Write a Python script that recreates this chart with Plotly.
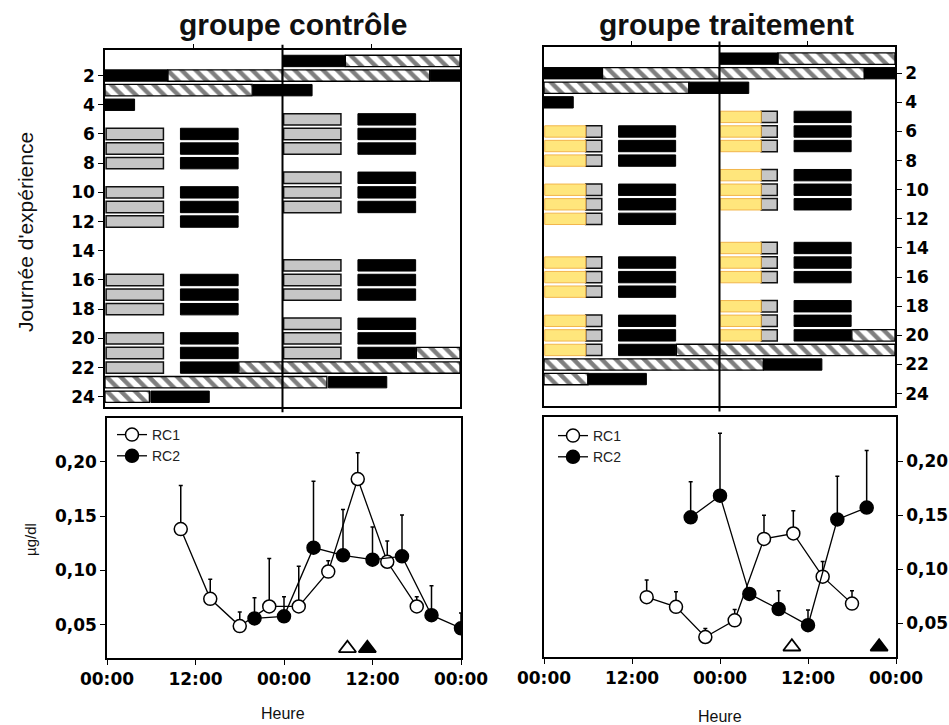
import plotly.graph_objects as go

W, H = 949, 725

# ---------------- actogram data: (day of experiment, start hour, end hour) ----------------
# control group
ctrl_dark_day = [2, 3, 4, 6, 7, 8, 10, 11, 12, 16, 17, 18, 20, 21, 22, 24]
ctrl_dark_start = [0, 20, 0, 10.2, 10.2, 10.2, 10.2, 10.2, 10.2, 10.2, 10.2, 10.2, 10.2, 10.2, 10.2, 6.2]
ctrl_dark_end = [8.5, 24, 4, 18, 18, 18, 18, 18, 18, 18, 18, 18, 18, 18, 18, 14.1]
ctrl_gray_day = [6, 7, 8, 10, 11, 12, 16, 17, 18, 20, 21, 22]
ctrl_gray_start = [0.15, 0.15, 0.15, 0.15, 0.15, 0.15, 0.15, 0.15, 0.15, 0.15, 0.15, 0.15]
ctrl_gray_end = [7.9, 7.9, 7.9, 7.9, 7.9, 7.9, 7.9, 7.9, 7.9, 7.9, 7.9, 7.9]
ctrl_hatch_day = [2, 3, 22, 23, 24]
ctrl_hatch_start = [8.5, 0, 18.1, 0, 0]
ctrl_hatch_end = [24, 19.9, 24, 24, 6]

# treatment group
trt_dark_day = [2, 3, 4, 6, 7, 8, 10, 11, 12, 15, 16, 17, 19, 20, 21, 23]
trt_dark_start = [0, 19.8, 0, 10.2, 10.2, 10.2, 10.2, 10.2, 10.2, 10.2, 10.2, 10.2, 10.2, 10.2, 10.2, 6]
trt_dark_end = [8, 24, 4, 18, 18, 18, 18, 18, 18, 18, 18, 18, 18, 18, 18, 14]
trt_gray_day = [6, 7, 8, 10, 11, 12, 15, 16, 17, 19, 20, 21]
trt_gray_start = [5.7, 5.7, 5.7, 5.7, 5.7, 5.7, 5.7, 5.7, 5.7, 5.7, 5.7, 5.7]
trt_gray_end = [7.9, 7.9, 7.9, 7.9, 7.9, 7.9, 7.9, 7.9, 7.9, 7.9, 7.9, 7.9]
trt_yellow_day = [6, 7, 8, 10, 11, 12, 15, 16, 17, 19, 20, 21]
trt_yellow_start = [0.1, 0.1, 0.1, 0.1, 0.1, 0.1, 0.1, 0.1, 0.1, 0.1, 0.1, 0.1]
trt_yellow_end = [5.7, 5.7, 5.7, 5.7, 5.7, 5.7, 5.7, 5.7, 5.7, 5.7, 5.7, 5.7]
trt_hatch_day = [2, 3, 21, 22, 23]
trt_hatch_start = [8, 0, 18.1, 0, 0]
trt_hatch_end = [24, 19.8, 24, 24, 6]

day_ticks = [2, 4, 6, 8, 10, 12, 14, 16, 18, 20, 22, 24]

# ---------------- hormone profiles (µg/dl), time in hours ----------------
ctrl_rc1_t = [10, 14, 18, 22, 26, 30, 34, 38, 42]
ctrl_rc1_v = [0.138, 0.074, 0.049, 0.067, 0.067, 0.099, 0.184, 0.108, 0.067]
ctrl_rc1_e = [0.040, 0.018, 0.013, 0.044, 0.037, 0.010, 0.024, 0.019, 0.009]
ctrl_rc2_t = [20, 24, 28, 32, 36, 40, 44, 48]
ctrl_rc2_v = [0.056, 0.058, 0.121, 0.114, 0.110, 0.113, 0.059, 0.047]
ctrl_rc2_e = [0.019, 0.018, 0.061, 0.042, 0.030, 0.038, 0.027, 0.014]
ctrl_tri_open_t = [32.6]
ctrl_tri_fill_t = [35.3]
ctrl_tri_v = [0.0286]

trt_rc1_t = [14, 18, 22, 26, 30, 34, 38, 42]
trt_rc1_v = [0.074, 0.065, 0.037, 0.0525, 0.128, 0.133, 0.093, 0.068]
trt_rc1_e = [0.016, 0.014, 0.008, 0.010, 0.022, 0.021, 0.014, 0.012]
trt_rc2_t = [20, 24, 28, 32, 36, 40, 44]
trt_rc2_v = [0.148, 0.168, 0.077, 0.063, 0.048, 0.146, 0.157]
trt_rc2_e = [0.033, 0.058, 0.004, 0.017, 0.014, 0.040, 0.053]
trt_tri_open_t = [33.8]
trt_tri_fill_t = [45.7]
trt_tri_v = [0.028]

time_ticks = [0, 12, 24, 36, 48]
time_labels = ["00:00", "12:00", "00:00", "12:00", "00:00"]
conc_ticks = [0.05, 0.10, 0.15, 0.20]
conc_labels = ["0,05", "0,10", "0,15", "0,20"]


def double_plot(days, starts, ends):
    rows, bases, lens = [], [], []
    for d, s, e in zip(days, starts, ends):
        rows.append(d); bases.append(s); lens.append(e - s)
        if d - 1 >= 1:
            rows.append(d - 1); bases.append(s + 24); lens.append(e - s)
    return rows, bases, lens


fig = go.Figure()
BW = 0.78


def add_bars(days, starts, ends, xa, ya, kind):
    rows, bases, lens = double_plot(days, starts, ends)
    if kind == "dark":
        marker = dict(color="black", line=dict(color="black", width=1))
    elif kind == "gray":
        marker = dict(color="#C6C6C6", line=dict(color="#111111", width=1.5))
    elif kind == "yellow":
        marker = dict(color="#FFE67C", line=dict(color="#F2B54C", width=1))
    else:
        marker = dict(color="white", line=dict(color="black", width=1.3),
                      pattern=dict(shape="\\", fgcolor="black", bgcolor="white",
                                   size=10, solidity=0.45))
    fig.add_trace(go.Bar(orientation="h", y=rows, x=lens, base=bases, width=BW,
                         marker=marker, xaxis=xa, yaxis=ya, showlegend=False,
                         hoverinfo="skip"))


add_bars(ctrl_hatch_day, ctrl_hatch_start, ctrl_hatch_end, "x", "y", "hatch")
add_bars(ctrl_dark_day, ctrl_dark_start, ctrl_dark_end, "x", "y", "dark")
add_bars(ctrl_gray_day, ctrl_gray_start, ctrl_gray_end, "x", "y", "gray")

add_bars(trt_hatch_day, trt_hatch_start, trt_hatch_end, "x2", "y2", "hatch")
add_bars(trt_dark_day, trt_dark_start, trt_dark_end, "x2", "y2", "dark")
add_bars(trt_gray_day, trt_gray_start, trt_gray_end, "x2", "y2", "gray")
add_bars(trt_yellow_day, trt_yellow_start, trt_yellow_end, "x2", "y2", "yellow")


def add_profile(t, v, e, name, filled, xa, ya, legend):
    fig.add_trace(go.Scatter(
        x=t, y=v, mode="lines+markers", name=name, xaxis=xa, yaxis=ya, legend=legend,
        line=dict(color="black", width=1.3),
        marker=dict(symbol="circle", size=13, color="black" if filled else "white",
                    line=dict(color="black", width=1.5)),
        error_y=dict(type="data", symmetric=False, array=e, arrayminus=[0] * len(e),
                     color="black", thickness=1.5, width=2),
        hoverinfo="skip"))


def add_tri(t, v, filled, xa, ya):
    fig.add_trace(go.Scatter(
        x=t, y=v, mode="markers", xaxis=xa, yaxis=ya, showlegend=False,
        marker=dict(symbol="triangle-up", size=15, color="black" if filled else "white",
                    line=dict(color="black", width=1.8)), hoverinfo="skip"))


add_profile(ctrl_rc1_t, ctrl_rc1_v, ctrl_rc1_e, "RC1", False, "x3", "y3", "legend")
add_profile(ctrl_rc2_t, ctrl_rc2_v, ctrl_rc2_e, "RC2", True, "x3", "y3", "legend")
add_tri(ctrl_tri_open_t, ctrl_tri_v, False, "x3", "y3")
add_tri(ctrl_tri_fill_t, ctrl_tri_v, True, "x3", "y3")

add_profile(trt_rc1_t, trt_rc1_v, trt_rc1_e, "RC1", False, "x4", "y4", "legend2")
add_profile(trt_rc2_t, trt_rc2_v, trt_rc2_e, "RC2", True, "x4", "y4", "legend2")
add_tri(trt_tri_open_t, trt_tri_v, False, "x4", "y4")
add_tri(trt_tri_fill_t, trt_tri_v, True, "x4", "y4")

tick_font = dict(family="DejaVu Sans", size=17, color="black", weight="bold")


def px(x):
    return x / W


def py(y):
    return 1 - y / H


axis_common = dict(showline=True, linecolor="black", linewidth=1.5, mirror=True,
                   showgrid=False, zeroline=False, ticks="outside", tickcolor="black",
                   tickwidth=1.3, tickfont=tick_font, automargin=False)


def label(text, x, y, size, angle=0, family="Liberation Sans, Arial"):
    return dict(text=text, x=px(x), y=py(y), xref="paper", yref="paper",
                xanchor="center", yanchor="middle", textangle=angle, showarrow=False,
                font=dict(size=size, family=family, color="#111"))


layout = dict(
    width=W, height=H, margin=dict(l=0, r=0, t=0, b=0, autoexpand=False),
    paper_bgcolor="white", plot_bgcolor="white", barmode="overlay",
    font=dict(family="Liberation Sans, Arial", color="black"),
    xaxis=dict(domain=[px(105), px(460)], range=[0, 48], anchor="y", side="top",
               tickvals=[12, 36], showticklabels=False, ticklen=4, **axis_common),
    yaxis=dict(domain=[py(407), py(50)], range=[24.7, 0.25], anchor="x",
               tickvals=day_ticks, ticklen=5, **axis_common),
    xaxis2=dict(domain=[px(544), px(895)], range=[0, 48], anchor="y2", side="top",
                tickvals=[12, 36], showticklabels=False, ticklen=4, **axis_common),
    yaxis2=dict(domain=[py(406), py(47)], range=[24.85, 0.2], anchor="x2", side="right",
                tickvals=day_ticks, ticklen=5, **axis_common),
    xaxis3=dict(domain=[px(107), px(461)], range=[0, 48], anchor="y3",
                tickvals=time_ticks, ticktext=time_labels, ticklen=5, **axis_common),
    yaxis3=dict(domain=[py(658), py(418)], range=[0.0197, 0.240], anchor="x3",
                tickvals=conc_ticks, ticktext=conc_labels, ticklen=5, **axis_common),
    xaxis4=dict(domain=[px(544), px(896)], range=[0, 48], anchor="y4",
                tickvals=time_ticks, ticktext=time_labels, ticklen=5, **axis_common),
    yaxis4=dict(domain=[py(657), py(417)], range=[0.0185, 0.241], anchor="x4", side="right",
                tickvals=conc_ticks, ticktext=conc_labels, ticklen=5, **axis_common),
    legend=dict(x=px(112), y=py(419), xanchor="left", yanchor="top",
                bgcolor="rgba(0,0,0,0)", font=dict(size=14, color="#222"),
                tracegroupgap=0, itemwidth=30),
    legend2=dict(x=px(553), y=py(420), xanchor="left", yanchor="top",
                 bgcolor="rgba(0,0,0,0)", font=dict(size=14, color="#222"),
                 tracegroupgap=0, itemwidth=30),
    shapes=[
        dict(type="line", xref="x", yref="y domain", x0=24, x1=24, y0=-0.015, y1=1.015,
             line=dict(color="black", width=2)),
        dict(type="line", xref="x2", yref="y2 domain", x0=24, x1=24, y0=-0.015, y1=1.015,
             line=dict(color="black", width=2)),
    ],
    annotations=[
        label("<b>groupe contrôle</b>", 293, 24, 30),
        label("<b>groupe traitement</b>", 726, 24, 30),
        label("Journée d'expérience", 25, 232, 21, -90),
        label("µg/dl", 30, 540, 15, -90),
        label("Heure", 283, 713, 16),
        label("Heure", 720, 716, 16),
    ],
)
fig.update_layout(**layout)
fig.write_html("out.html", config={"displayModeBar": False},
               post_script="document.body.style.margin='0px';")
